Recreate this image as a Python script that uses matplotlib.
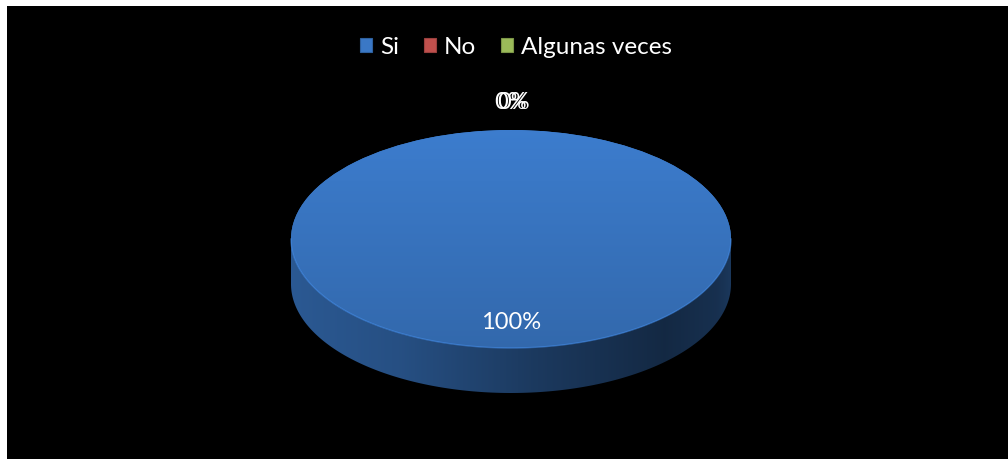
#! /usr/bin/env python3
# 3D-style pie: Si / No / Algunas veces

import numpy as np
import matplotlib.pyplot as plt
from matplotlib.patches import Polygon
from matplotlib.colors import to_rgb

categories = ["Si", "No", "Algunas veces"]
values     = [100, 0, 0]
colors     = ["#3a78c6", "#c0504d", "#9bbb59"]

W, H = 1008, 459
cx, cy, rx, ry = 511, 239, 220, 109   # ellipse of the top face, pixels
depth = 45 / ry                       # side height in data units

plt.rcParams['font.family'] = ['Lato', 'DejaVu Sans']


def shade(c, f):
    return np.clip(np.array(to_rgb(c)) * f, 0, 1)


def main():
    fig = plt.figure(figsize=(W / 100, H / 100), dpi=100, facecolor="white")
    bg = fig.add_axes([7 / W, 0, 1 - 7 / W, (H - 6) / H])
    bg.set_facecolor("black")
    bg.set_xticks([])
    bg.set_yticks([])
    for s in bg.spines.values():
        s.set_visible(False)

    ax = fig.add_axes([0, 0, 1, 1])
    ax.patch.set_alpha(0)
    wedges, _ = ax.pie(values, colors=colors, startangle=90,
                       counterclock=False, radius=1,
                       wedgeprops=dict(linewidth=0))
    ax.set_aspect('auto')
    ax.axis('off')

    total = sum(values)
    for w, v, c in zip(wedges, values, colors):
        if v == 0:
            continue
        # side of the slice (front half only)
        t = np.radians(np.linspace(w.theta1, w.theta2, 720))
        t = t[np.sin(t) <= 1e-9]
        if len(t) > 1:
            top = np.column_stack([np.cos(t), np.sin(t)])
            bot = np.column_stack([np.cos(t), np.sin(t) - depth])[::-1]
            side = Polygon(np.vstack([top, bot]), closed=True,
                           facecolor='none', edgecolor='none')
            ax.add_patch(side)
            xs = np.linspace(0, 1, 400)
            stops = [0.0, 0.25, 0.55, 0.85, 0.97, 1.0]
            fac = [0.74, 0.66, 0.48, 0.34, 0.40, 0.46]
            f = np.interp(xs, stops, fac)
            img = np.array([shade(c, k) for k in f])[None, :, :]
            im = ax.imshow(img, extent=(-1, 1, -1 - depth, 0),
                           aspect='auto', zorder=2, interpolation='bilinear')
            im.set_clip_path(side)
        # top face gradient
        ys = np.linspace(0, 1, 300)
        f = np.interp(ys, [0, 1], [1.04, 0.87])
        img = np.array([shade(c, k) for k in f])[:, None, :]
        im = ax.imshow(img, extent=(-1, 1, -1, 1), aspect='auto',
                       zorder=3, interpolation='bilinear')
        im.set_clip_path(w)
        # highlight on the front rim
        t = np.radians(np.linspace(180, 360, 300))
        ax.plot(np.cos(t), np.sin(t), color=shade(c, 1.2), lw=1,
                alpha=0.55, zorder=4)

    # percentage labels
    k = 0
    for w, v in zip(wedges, values):
        mid = np.radians((w.theta1 + w.theta2) / 2)
        r = 0.77 if v > 0 else 1.25
        dx = 0.0 if v > 0 else 0.01 * k
        if v == 0:
            k += 1
        ax.text(r * np.cos(mid) + dx, r * np.sin(mid) + dx * 0.4,
                f"{v / total:.0%}", color="white", fontsize=17,
                ha="center", va="center", zorder=5)

    ax.set_xlim(-cx / rx, (W - cx) / rx)
    ax.set_ylim((cy - H) / ry, cy / ry)

    leg = ax.legend(wedges, categories, loc="center",
                    bbox_to_anchor=(516 / W, 1 - 47 / H),
                    bbox_transform=fig.transFigure, ncol=3, frameon=False,
                    fontsize=17.5, labelcolor="white", handlelength=0.5,
                    handleheight=0.5, handletextpad=0.35, columnspacing=1.0)
    for h, c in zip(leg.legend_handles, colors):
        h.set_edgecolor(shade(c, 0.8))
        h.set_linewidth(0.8)

    fig.savefig("out.png", dpi=100, facecolor="white")


if __name__ == "__main__":
    main()
